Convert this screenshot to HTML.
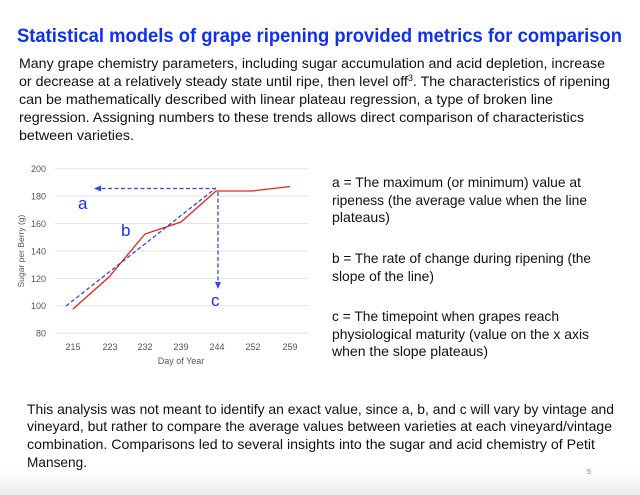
<!DOCTYPE html>
<html><head><meta charset="utf-8"><style>
html,body{margin:0;padding:0;background:#fff;}
svg{display:block;}
text{font-family:"Liberation Sans",sans-serif;}
</style></head><body>
<svg width="640" height="495" viewBox="0 0 640 495" xmlns="http://www.w3.org/2000/svg">
<defs>
<linearGradient id="bg" x1="0" y1="0" x2="0" y2="1">
<stop offset="0" stop-color="#ffffff"/><stop offset="1" stop-color="#ececec"/>
</linearGradient>
</defs>
<rect x="0" y="0" width="640" height="495" fill="#fff"/>
<rect x="0" y="470" width="640" height="25" fill="url(#bg)"/>
<text x="17" y="42" font-size="19" font-weight="bold" fill="#1030f0" textLength="605" lengthAdjust="spacingAndGlyphs">Statistical models of grape ripening provided metrics for comparison</text>
<g font-size="14" fill="#111">
<text x="19" y="68" textLength="586" lengthAdjust="spacingAndGlyphs">Many grape chemistry parameters, including sugar accumulation and acid depletion, increase</text>
<text x="19" y="86" textLength="591" lengthAdjust="spacingAndGlyphs">or decrease at a relatively steady state until ripe, then level off<tspan font-size="9" dy="-5">3</tspan><tspan dy="5">. The characteristics of ripening</tspan></text>
<text x="19" y="104" textLength="534" lengthAdjust="spacingAndGlyphs">can be mathematically described with linear plateau regression, a type of broken line</text>
<text x="19" y="122" textLength="565" lengthAdjust="spacingAndGlyphs">regression. Assigning numbers to these trends allows direct comparison of characteristics</text>
<text x="19" y="140" textLength="115" lengthAdjust="spacingAndGlyphs">between varieties.</text>

<text x="332" y="187" textLength="249" lengthAdjust="spacingAndGlyphs">a = The maximum (or minimum) value at</text>
<text x="332" y="205" textLength="255" lengthAdjust="spacingAndGlyphs">ripeness (the average value when the line</text>
<text x="332" y="222" textLength="58" lengthAdjust="spacingAndGlyphs">plateaus)</text>
<text x="332" y="263" textLength="259" lengthAdjust="spacingAndGlyphs">b = The rate of change during ripening (the</text>
<text x="332" y="281" textLength="102" lengthAdjust="spacingAndGlyphs">slope of the line)</text>
<text x="332" y="321" textLength="227" lengthAdjust="spacingAndGlyphs">c = The timepoint when grapes reach</text>
<text x="332" y="339" textLength="257" lengthAdjust="spacingAndGlyphs">physiological maturity (value on the x axis</text>
<text x="332" y="356" textLength="156" lengthAdjust="spacingAndGlyphs">when the slope plateaus)</text>

<text x="27" y="414" textLength="587" lengthAdjust="spacingAndGlyphs">This analysis was not meant to identify an exact value, since a, b, and c will vary by vintage and</text>
<text x="27" y="431" textLength="585" lengthAdjust="spacingAndGlyphs">vineyard, but rather to compare the average values between varieties at each vineyard/vintage</text>
<text x="27" y="449" textLength="568" lengthAdjust="spacingAndGlyphs">combination. Comparisons led to several insights into the sugar and acid chemistry of Petit</text>
<text x="27" y="467" textLength="60" lengthAdjust="spacingAndGlyphs">Manseng.</text>
</g>
<text x="587" y="474" font-size="7" fill="#777">5</text>

<g stroke="#e4e4e4" stroke-width="1">
<line x1="55" x2="308" y1="168.7" y2="168.7"/>
<line x1="55" x2="308" y1="196.1" y2="196.1"/>
<line x1="55" x2="308" y1="223.5" y2="223.5"/>
<line x1="55" x2="308" y1="251" y2="251"/>
<line x1="55" x2="308" y1="278.4" y2="278.4"/>
<line x1="55" x2="308" y1="305.8" y2="305.8"/>
<line x1="55" x2="308" y1="333.3" y2="333.3"/>
</g>
<g font-size="9" fill="#555" text-anchor="end">
<text x="46" y="172">200</text><text x="46" y="199.5">180</text><text x="46" y="227">160</text>
<text x="46" y="254.5">140</text><text x="46" y="282">120</text><text x="46" y="309">100</text><text x="46" y="336.5">80</text>
</g>
<g font-size="9" fill="#555" text-anchor="middle">
<text x="73" y="350">215</text><text x="110" y="350">223</text><text x="145" y="350">232</text>
<text x="181" y="350">239</text><text x="217" y="350">244</text><text x="253" y="350">252</text><text x="290" y="350">259</text>
<text x="181" y="364">Day of Year</text>
</g>
<text transform="translate(24,251) rotate(-90)" font-size="8.5" fill="#555" text-anchor="middle">Sugar per Berry (g)</text>

<polyline points="73,309 109,277 145,234 181,222 216,191 252,191 290,186.5" fill="none" stroke="#ee2211" stroke-width="1.3"/>
<g stroke="#3344ee" stroke-width="1.3" stroke-dasharray="4,2.5" fill="none">
<line x1="66" y1="306" x2="216" y2="188"/>
<line x1="216" y1="188.5" x2="100" y2="188.5"/>
<line x1="218" y1="192" x2="218" y2="283"/>
</g>
<polygon points="94,188.5 101,185.5 101,191.5" fill="#3344ee"/>
<polygon points="218,289 215,282 221,282" fill="#3344ee"/>
<g font-size="17" fill="#1a2ee8">
<text x="78" y="209">a</text><text x="121" y="236">b</text><text x="211" y="306">c</text>
</g>
</svg>
</body></html>
